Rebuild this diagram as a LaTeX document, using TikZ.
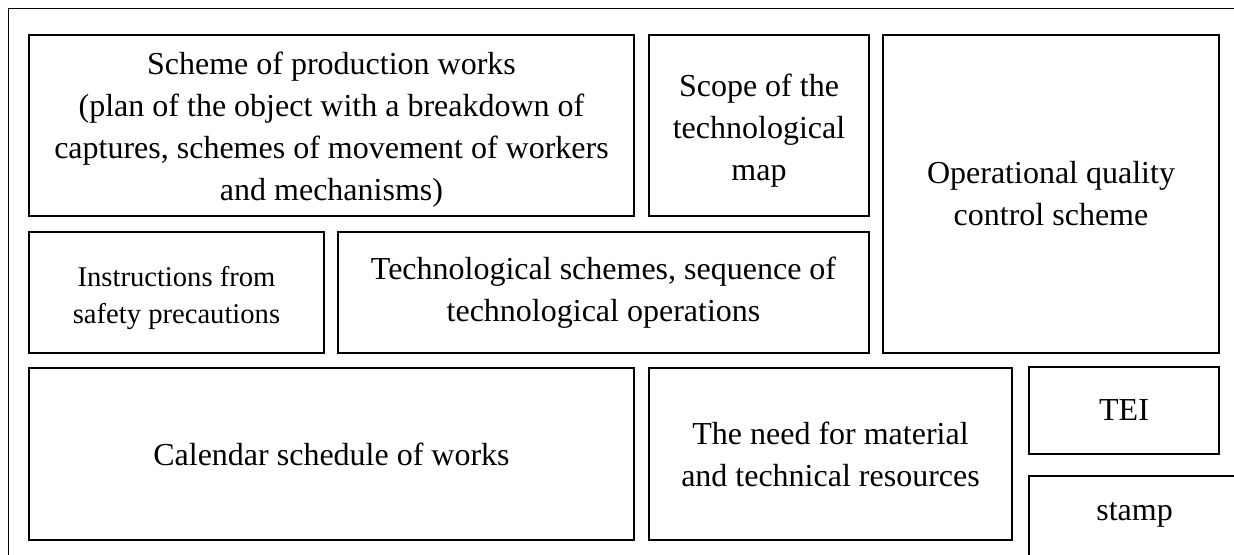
\documentclass[tikz,border=0pt]{standalone}
\usepackage{fontspec}
\setmainfont{Liberation Serif}
\begin{document}
\begin{tikzpicture}[x=0.5pt,y=-0.5pt,line width=0.9pt,
                    box/.style={draw,rectangle,inner sep=0pt,outer sep=0pt,align=center,font=\fontsize{16}{21}\selectfont},
                    small box/.style={box,font=\fontsize{14.3}{18.5}\selectfont}]
                    \useasboundingbox (0,0) rectangle (1234,555);
                    % frames
                    \draw (8.5,560) -- (8.5,8.5) -- (1240,8.5);
                    \draw (1029,560) -- (1029,476) -- (1240,476);

                    \node[box,minimum width=302.5pt,minimum height=90.5pt] at (331.5,125.5) (scheme) {\rule{0pt}{15pt}Scheme of production works\\(plan of the object with a breakdown of\\captures, schemes of movement of workers\\and mechanisms)};
                    \node[box,minimum width=110pt,minimum height=90.5pt] at (759,125.5) (scope) {\rule{0pt}{16pt}Scope of the\\technological\\map};
                    \node[box,minimum width=168pt,minimum height=159pt] at (1051,194) (quality) {Operational quality\\control scheme};
                    \node[small box,minimum width=147.5pt,minimum height=60.5pt] at (176.5,292.5) (safety) {\rule{0pt}{15.8pt}Instructions from\\safety precautions};
                    \node[box,minimum width=265.5pt,minimum height=60.5pt] at (603.5,292.5) (techops) {Technological schemes, sequence of\\technological operations};
                    \node[box,minimum width=302.5pt,minimum height=86pt] at (331.5,454) (calendar) {Calendar schedule of works};
                    \node[box,minimum width=181.5pt,minimum height=86pt] at (830.5,454) (resources) {The need for material\\and technical resources};
                    \node[box,minimum width=95pt,minimum height=43.5pt] at (1124,410.5) (tei) {TEI};
                    \node[box,draw=none] at (1134.5,515) (stamp) {stamp};
                \end{tikzpicture}
\end{document}
